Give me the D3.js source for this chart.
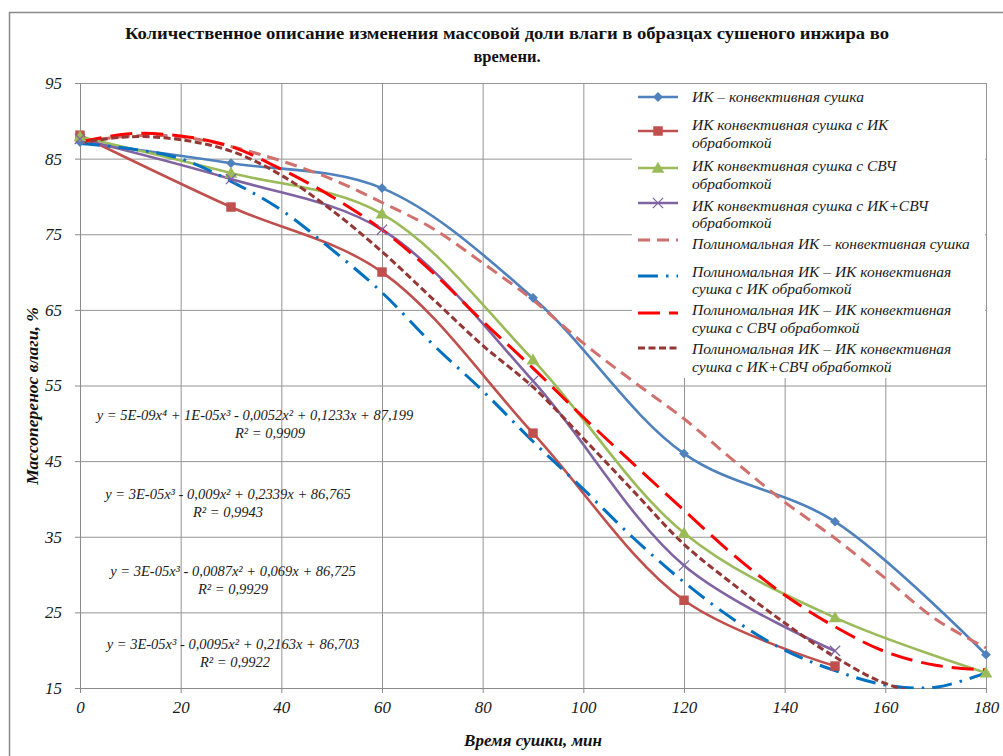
<!DOCTYPE html>
<html>
<head>
<meta charset="utf-8">
<title>Массоперенос влаги</title>
<script src="https://cdnjs.cloudflare.com/ajax/libs/d3/7.8.5/d3.min.js"></script>
<style>
	body { margin: 0; background: #fff; }
</style>
</head>
<body>
<div id="chart"></div>
<script>

	//measured series (minutes / moisture %)
	var times = [0, 30, 60, 90, 120, 150, 180];
	var ikKonv = [87.2, 84.4, 81.1, 66.6, 46.0, 37.0, 19.4];
	var ikObr = [88.1, 78.6, 70.0, 48.7, 26.6, 17.9];
	var svchObr = [87.9, 83.1, 77.7, 58.4, 35.5, 24.3, 17.0];
	var ikSvchObr = [87.6, 82.3, 75.6, 55.6, 31.2, 19.9];

	//polynomial trendlines, every 10 min
	var trendTimes = [0, 10, 20, 30, 40, 50, 60, 70, 80, 90, 100, 110, 120, 130, 140, 150, 160, 170, 180];
	var polyKonv = [87.2, 88.0, 87.9, 86.6, 84.7, 82.3, 79.2, 75.8, 71.2, 66.3, 60.6, 55.5, 50.6, 45.0, 39.6, 34.8, 29.5, 24.1, 20.3];
	var polyIk = [87.0, 86.3, 85.0, 82.0, 78.2, 73.0, 67.3, 60.5, 54.3, 47.6, 41.3, 34.8, 29.0, 24.0, 20.0, 17.3, 15.4, 15.1, 17.0];
	var polySvch = [87.2, 88.3, 88.0, 86.6, 83.6, 80.0, 75.6, 70.0, 63.5, 57.3, 50.8, 44.6, 38.5, 32.5, 27.3, 23.1, 19.8, 18.0, 17.4];
	var polyIkSvch = [87.1, 87.9, 87.5, 86.0, 82.8, 78.2, 72.7, 66.5, 60.3, 54.8, 48.0, 41.0, 34.0, 28.6, 23.6, 19.1, 15.6, 14.0, 14.0];

	//axis ticks
	var xTicks = [0, 20, 40, 60, 80, 100, 120, 140, 160, 180];
	var yTicks = [15, 25, 35, 45, 55, 65, 75, 85, 95];

	var titleLines = ['Количественное описание изменения массовой доли влаги в образцах сушеного инжира во', 'времени.'];

	var equations = [
		['y = 5E-09x⁴ + 1E-05x³ - 0,0052x² + 0,1233x + 87,199', 'R² = 0,9909'],
		['y = 3E-05x³ - 0,009x² + 0,2339x + 86,765', 'R² = 0,9943'],
		['y = 3E-05x³ - 0,0087x² + 0,069x + 86,725', 'R² = 0,9929'],
		['y = 3E-05x³ - 0,0095x² + 0,2163x + 86,703', 'R² = 0,9922']
	];

	//display variables
	var width = 1003, height = 756;
	var plotL = 80, plotR = 986, plotT = 83, plotB = 688;
	var serif = '"Liberation Serif", "Times New Roman", serif';

	var svg = d3.select('#chart').append('svg')
		.attr('width', width).attr('height', height);

	//helper for every text so the serif face is always used
	function label(g, txt, xx, yy, size, opts){
		opts = opts || {};
		return g.append('text').attr('x', xx).attr('y', yy)
			.attr('text-anchor', opts.anchor || 'start')
			.style('font-family', serif).style('font-size', size + 'px')
			.style('font-style', opts.italic === false ? 'normal' : 'italic')
			.style('font-weight', opts.bold ? 'bold' : 'normal')
			.attr('fill', opts.fill || '#1a1a1a')
			.text(txt);
	}

	//outer chart border
	svg.append('rect').attr('x', 9.5).attr('y', 12.5).attr('width', 1010).attr('height', 770)
		.attr('fill', 'white').attr('stroke', '#8a8a8a').attr('stroke-width', 1.5);

	var x = d3.scaleLinear().domain([0, 180]).range([plotL, plotR]);
	var y = d3.scaleLinear().domain([15, 95]).range([plotB, plotT]);

	//gridlines
	svg.append('g').attr('transform', 'translate(0,' + plotB + ')')
		.call(d3.axisBottom(x).tickValues(xTicks).tickSize(-(plotB - plotT)).tickFormat(''))
		.call(function(g){ g.select('.domain').remove(); g.selectAll('line').attr('stroke', '#949494'); });
	svg.append('g').attr('transform', 'translate(' + plotL + ',0)')
		.call(d3.axisLeft(y).tickValues(yTicks).tickSize(-(plotR - plotL)).tickFormat(''))
		.call(function(g){ g.select('.domain').remove(); g.selectAll('line').attr('stroke', '#949494'); });

	//axes with small outside ticks
	var xAxis = svg.append('g').attr('transform', 'translate(0,' + plotB + ')')
		.call(d3.axisBottom(x).tickValues(xTicks).tickSize(5).tickPadding(8));
	var yAxis = svg.append('g').attr('transform', 'translate(' + plotL + ',0)')
		.call(d3.axisLeft(y).tickValues(yTicks).tickSize(5).tickPadding(13));
	[xAxis, yAxis].forEach(function(a){
		a.select('.domain').attr('stroke', '#8a8a8a');
		a.selectAll('line').attr('stroke', '#8a8a8a');
		a.selectAll('text').style('font-family', serif).style('font-size', '17px')
			.style('font-style', 'italic').attr('fill', '#1a1a1a');
	});

	//title
	svg.selectAll('.title').data(titleLines).enter().append('text')
		.attr('x', 507).attr('y', function(d, i){ return 39 + i * 23; })
		.attr('text-anchor', 'middle')
		.style('font-family', serif).style('font-size', '16.5px').style('font-weight', 'bold')
		.attr('fill', '#111')
		.attr('textLength', function(d, i){ return i == 0 ? 764 : null; })
		.attr('lengthAdjust', 'spacingAndGlyphs')
		.text(function(d){ return d; });

	//axis titles
	label(svg, 'Время сушки, мин', 533, 746, 17, { anchor: 'middle', bold: true, fill: '#111' });
	label(svg, 'Массоперенос влаги, %', 0, 0, 17.5, { anchor: 'middle', bold: true, fill: '#111' })
		.attr('transform', 'translate(38,396) rotate(-90)');

	//trendline equations
	var eqPos = [[255, 420, 270, 438], [228, 499, 228, 517], [233, 576, 233, 594], [233, 649, 235, 667]];
	equations.forEach(function(e, i){
		var p = eqPos[i];
		label(svg, e[0], p[0], p[1], 14.5, { anchor: 'middle' });
		label(svg, e[1], p[2], p[3], 14.5, { anchor: 'middle' });
	});

	//clip to plot area
	svg.append('clipPath').attr('id', 'plotclip').append('rect')
		.attr('x', plotL).attr('y', plotT - 2).attr('width', plotR - plotL + 2).attr('height', plotB - plotT + 3);
	var plot = svg.append('g').attr('clip-path', 'url(#plotclip)');

	var series = [
		{ values: ikKonv, color: '#4F81BD', symbol: 'diamond' },
		{ values: ikObr, color: '#C0504D', symbol: 'square' },
		{ values: svchObr, color: '#9BBB59', symbol: 'triangle' },
		{ values: ikSvchObr, color: '#8064A2', symbol: 'x' }
	];
	var trends = [
		{ values: polyKonv, color: '#D0706C', dash: '12,7' },
		{ values: polyIk, color: '#0070C0', dash: '20,8,2.5,8' },
		{ values: polySvch, color: '#FF0000', dash: '22,9' },
		{ values: polyIkSvch, color: '#953735', dash: '7,3.5' }
	];

	var smooth = d3.line().curve(d3.curveCatmullRom.alpha(0.5));

	series.forEach(function(s){
		var pts = s.values.map(function(v, i){ return [x(times[i]), y(v)]; });
		plot.append('path').attr('d', smooth(pts)).attr('fill', 'none')
			.attr('stroke', s.color).attr('stroke-width', 2.6);
	});

	trends.forEach(function(t){
		var pts = t.values.map(function(v, i){ return [x(trendTimes[i]), y(v)]; });
		plot.append('path').attr('d', smooth(pts)).attr('fill', 'none')
			.attr('stroke', t.color).attr('stroke-width', 3).attr('stroke-dasharray', t.dash);
	});

	function marker(g, kind, color, cx, cy){
		if (kind == 'diamond') {
			g.append('path').attr('d', d3.symbol().type(d3.symbolSquare).size(48)())
				.attr('transform', 'translate(' + cx + ',' + cy + ') rotate(45)').attr('fill', color);
		} else if (kind == 'square') {
			g.append('path').attr('d', d3.symbol().type(d3.symbolSquare).size(90)())
				.attr('transform', 'translate(' + cx + ',' + cy + ')').attr('fill', color);
		} else if (kind == 'triangle') {
			g.append('path').attr('d', d3.symbol().type(d3.symbolTriangle).size(70)())
				.attr('transform', 'translate(' + cx + ',' + (cy + 1) + ')').attr('fill', color);
		} else {
			g.append('path').attr('d', d3.symbol().type(d3.symbolX).size(70)())
				.attr('transform', 'translate(' + cx + ',' + cy + ')')
				.attr('fill', 'none').attr('stroke', color).attr('stroke-width', 1.3);
		}
	}

	series.forEach(function(s){
		s.values.forEach(function(v, i){ marker(svg, s.symbol, s.color, x(times[i]), y(v)); });
	});

	//legend
	var legendItems = [
		{ lines: ['ИК – конвективная сушка'], color: '#4F81BD', symbol: 'diamond', ty: [102], sy: 97 },
		{ lines: ['ИК конвективная сушка с ИК', 'обработкой'], color: '#C0504D', symbol: 'square', ty: [130, 148], sy: 131 },
		{ lines: ['ИК конвективная сушка с СВЧ', 'обработкой'], color: '#9BBB59', symbol: 'triangle', ty: [171, 189], sy: 168 },
		{ lines: ['ИК конвективная сушка с ИК+СВЧ', 'обработкой'], color: '#8064A2', symbol: 'x', ty: [211, 228], sy: 203 },
		{ lines: ['Полиномальная ИК – конвективная сушка'], color: '#D0706C', dash: '12,7', ty: [249], sy: 240 },
		{ lines: ['Полиномальная ИК – ИК конвективная', 'сушка с ИК обработкой'], color: '#0070C0', dash: '20,8,2.5,8', ty: [277, 294], sy: 276 },
		{ lines: ['Полиномальная ИК – ИК конвективная', 'сушка с СВЧ обработкой'], color: '#FF0000', dash: '22,9', ty: [315, 333], sy: 313 },
		{ lines: ['Полиномальная ИК – ИК конвективная', 'сушка с ИК+СВЧ обработкой'], color: '#953735', dash: '7,3.5', ty: [354, 372], sy: 348 }
	];

	var legend = svg.append('g');
	legend.append('rect').attr('x', 632).attr('y', 84).attr('width', 353).attr('height', 294).attr('fill', 'white');

	legendItems.forEach(function(d){
		legend.append('line').attr('x1', 638).attr('x2', 678).attr('y1', d.sy).attr('y2', d.sy)
			.attr('stroke', d.color).attr('stroke-width', d.dash ? 3 : 2.6)
			.attr('stroke-dasharray', d.dash || null);
		if (d.symbol) marker(legend, d.symbol, d.color, 658, d.sy);
		d.lines.forEach(function(l, i){
			label(legend, l, 692, d.ty[i], 15.5);
		});
	});

</script>
</body>
</html>
